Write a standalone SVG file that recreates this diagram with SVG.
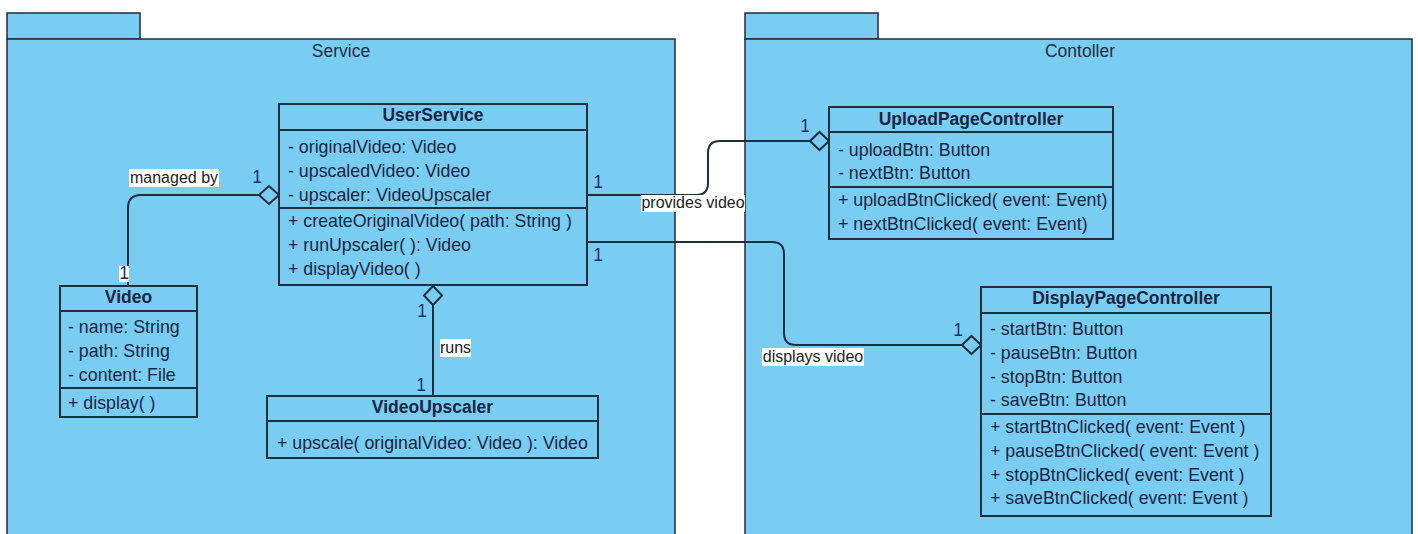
<svg xmlns="http://www.w3.org/2000/svg" width="1418" height="534" viewBox="0 0 1418 534">
<style>
  .pkg { fill: #79CDF3; stroke: #1f2d3d; stroke-width: 1.5; }
  .box { fill: #79CDF3; stroke: #1f2d3d; stroke-width: 2; }
  .div { stroke: #1f2d3d; stroke-width: 2; }
  text { font-family: "Liberation Sans", Arial, sans-serif; font-size: 17.8px; fill: #1a2540; }
  .title { font-weight: bold; text-anchor: middle; font-size: 17.5px; }
  .plabel { text-anchor: middle; fill: #1f2d3d; font-size: 17.5px; }
  .edge { fill: none; stroke: #1f2d3d; stroke-width: 2; }
  .dia { fill: #79CDF3; stroke: #1f2d3d; stroke-width: 2; }
  .lbg { fill: #ffffff; }
  .lbl { font-size: 16px; text-anchor: middle; fill: #222222; }
  .mult { text-anchor: middle; fill: #1d2f6a; font-size: 17.5px; }
</style>
<rect x="0" y="0" width="1418" height="534" fill="#ffffff"/>

<g id="pkg-service">
  <rect class="pkg" x="7" y="13" width="133" height="26"/>
  <rect class="pkg" x="7" y="39" width="668" height="500"/>
  <text class="plabel" x="341" y="57">Service</text>
</g>
<g id="pkg-controller">
  <rect class="pkg" x="745" y="13" width="133" height="26"/>
  <rect class="pkg" x="745" y="39" width="667" height="500"/>
  <text class="plabel" x="1080" y="57">Contoller</text>
</g>

<g id="connectors">
  <path class="edge" d="M128,286 V208 Q128,195 141,195 H259"/>
  <polygon class="dia" points="259,195 269,186 279,195 269,204"/>
  <path class="edge" d="M587,195 H696 Q708,195 708,183 V153 Q708,141 720,141 H810"/>
  <polygon class="dia" points="810,141 819.5,132 829,141 819.5,150"/>
  <path class="edge" d="M587,242 H772 Q784,242 784,254 V333 Q784,345 796,345 H962"/>
  <polygon class="dia" points="962,345 971.5,336 981,345 971.5,354"/>
  <path class="edge" d="M433,305 V396"/>
  <polygon class="dia" points="433,286 442,295.5 433,305 424,295.5"/>

  <rect class="lbg" x="129" y="169" width="90" height="18"/>
  <text class="lbl" x="174" y="183">managed by</text>
  <text class="mult" x="257" y="183">1</text>
  <rect class="lbg" x="119" y="266" width="10" height="16"/>
  <text class="mult" x="124" y="279">1</text>

  <text class="mult" x="598" y="188">1</text>
  <rect class="lbg" x="641" y="195" width="104" height="17"/>
  <text class="lbl" x="693" y="208">provides video</text>
  <text class="mult" x="805" y="132">1</text>

  <text class="mult" x="598" y="261">1</text>
  <rect class="lbg" x="762" y="348" width="102" height="18"/>
  <text class="lbl" x="813" y="362">displays video</text>
  <text class="mult" x="958" y="336">1</text>

  <text class="mult" x="422" y="317">1</text>
  <rect class="lbg" x="440" y="339" width="31" height="18"/>
  <text class="lbl" x="455.5" y="353">runs</text>
  <text class="mult" x="421" y="391">1</text>
</g>

<g id="UserService">
  <rect class="box" x="279" y="104" width="308" height="181"/>
  <line class="div" x1="279" y1="130" x2="587" y2="130"/>
  <line class="div" x1="279" y1="208" x2="587" y2="208"/>
  <text class="title" x="433" y="121">UserService</text>
  <text x="288" y="153">- originalVideo: Video</text>
  <text x="288" y="177">- upscaledVideo: Video</text>
  <text x="288" y="201">- upscaler: VideoUpscaler</text>
  <text x="288" y="227">+ createOriginalVideo( path: String )</text>
  <text x="288" y="251">+ runUpscaler( ): Video</text>
  <text x="288" y="275">+ displayVideo( )</text>
</g>

<g id="Video">
  <rect class="box" x="60" y="286" width="137" height="131"/>
  <line class="div" x1="60" y1="311" x2="197" y2="311"/>
  <line class="div" x1="60" y1="388" x2="197" y2="388"/>
  <text class="title" x="128.5" y="303">Video</text>
  <text x="68" y="333">- name: String</text>
  <text x="68" y="357">- path: String</text>
  <text x="68" y="381">- content: File</text>
  <text x="68" y="409">+ display( )</text>
</g>

<g id="VideoUpscaler">
  <rect class="box" x="267" y="396" width="331" height="62"/>
  <line class="div" x1="267" y1="421" x2="598" y2="421"/>
  <text class="title" x="432.5" y="413">VideoUpscaler</text>
  <text x="277" y="449">+ upscale( originalVideo: Video ): Video</text>
</g>

<g id="UploadPageController">
  <rect class="box" x="829" y="107" width="284" height="132"/>
  <line class="div" x1="829" y1="132" x2="1113" y2="132"/>
  <line class="div" x1="829" y1="187" x2="1113" y2="187"/>
  <text class="title" x="971" y="125">UploadPageController</text>
  <text x="838" y="156">- uploadBtn: Button</text>
  <text x="838" y="179">- nextBtn: Button</text>
  <text x="838" y="206">+ uploadBtnClicked( event: Event)</text>
  <text x="838" y="230">+ nextBtnClicked( event: Event)</text>
</g>

<g id="DisplayPageController">
  <rect class="box" x="981" y="287" width="290" height="229"/>
  <line class="div" x1="981" y1="313" x2="1271" y2="313"/>
  <line class="div" x1="981" y1="414" x2="1271" y2="414"/>
  <text class="title" x="1126" y="304">DisplayPageController</text>
  <text x="990" y="335">- startBtn: Button</text>
  <text x="990" y="359">- pauseBtn: Button</text>
  <text x="990" y="383">- stopBtn: Button</text>
  <text x="990" y="406">- saveBtn: Button</text>
  <text x="990" y="433">+ startBtnClicked( event: Event )</text>
  <text x="990" y="457">+ pauseBtnClicked( event: Event )</text>
  <text x="990" y="481">+ stopBtnClicked( event: Event )</text>
  <text x="990" y="504">+ saveBtnClicked( event: Event )</text>
</g>
</svg>
